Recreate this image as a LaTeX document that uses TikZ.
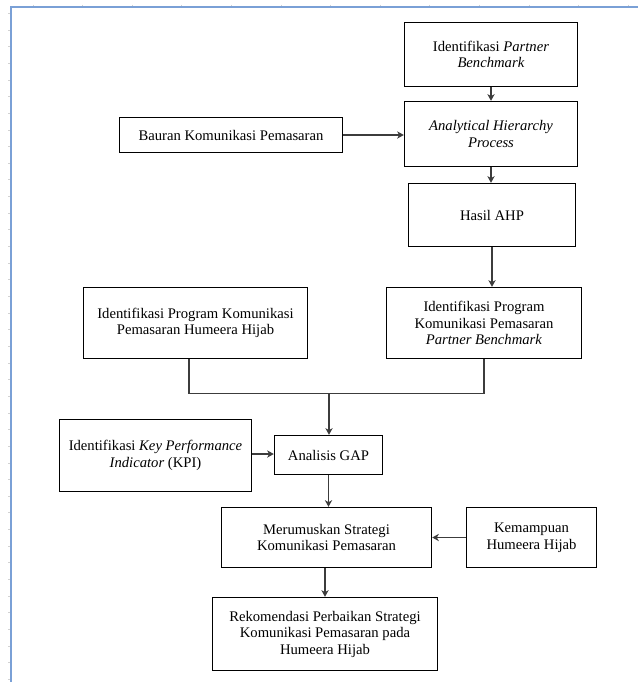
\documentclass[tikz,border=0pt]{standalone}
\usepackage{fontspec}
\setmainfont{Liberation Serif}
\usetikzlibrary{arrows.meta}
\definecolor{framblue}{RGB}{122,160,214}
\definecolor{linegray}{RGB}{60,60,60}
\begin{document}
\begin{tikzpicture}[x=0.75pt,y=-0.75pt,
  box/.style={draw=black,line width=1.1pt,align=center,inner sep=2pt,
    font=\fontsize{11}{12.4}\selectfont},
  sz/.style 2 args={minimum width=#1*0.75pt,minimum height=#2*0.75pt},
  conn/.style={draw=linegray,line width=0.9pt},
  arr/.style={conn,-{Stealth[length=5pt,width=5.5pt,inset=1.6pt]}}]
\useasboundingbox (0,0) rectangle (638,682);
\fill[white] (0,0) rectangle (638,682);
% frame
\draw[framblue,line width=1.5pt] (10.7,682) -- (10.7,6.8) -- (638,6.8);
\foreach \k in {0,...,40} \draw[gray!35,line width=0.5pt] (8.2,13.3+16.65*\k) -- (10,13.3+16.65*\k);
\foreach \k in {0,...,12} \draw[gray!35,line width=0.5pt] (33+49.6*\k,4.5) -- (33+49.6*\k,6);
% nodes
\node[box,sz={173}{64}] (pb) at (491,54.5) {Identifikasi \textit{Partner}\\\textit{Benchmark}};
\node[box,sz={173}{65}] (ahp) at (491,134) {\textit{Analytical Hierarchy}\\\textit{Process}};
\node[box,sz={223}{35}] (bauran) at (231,135) {Bauran Komunikasi Pemasaran};
\node[box,sz={167}{63}] (hasil) at (492,215) {Hasil AHP};
\node[box,sz={195}{71}] (ipkpb) at (484,323) {Identifikasi Program\\Komunikasi Pemasaran\\\textit{Partner Benchmark}};
\node[box,sz={224}{71}] (ipkh) at (195.5,323) {Identifikasi Program Komunikasi\\Pemasaran Humeera Hijab};
\node[box,sz={108}{39}] (gap) at (328.5,455) {Analisis GAP};
\node[box,sz={192}{72}] (kpi) at (155.5,455.5) {Identifikasi \textit{Key Performance}\\\textit{Indicator} (KPI)};
\node[box,sz={210}{60}] (mer) at (326.5,537.5) {Merumuskan Strategi\\Komunikasi Pemasaran};
\node[box,sz={130}{60}] (kem) at (531.5,537.5) {Kemampuan\\Humeera Hijab};
\node[box,sz={225}{73}] (rek) at (325,634) {Rekomendasi Perbaikan Strategi\\Komunikasi Pemasaran pada\\Humeera Hijab};
\coordinate (j) at (329,393.5);
\coordinate (jl) at (189,393.5);
% connectors
\draw[arr] (pb.south) -- (ahp.north);
\draw[arr] (bauran.east) -- (bauran.east -| ahp.west);
\draw[arr] (ahp.south) -- (ahp.south |- hasil.north);
\draw[arr] (hasil.south) -- (hasil.south |- ipkpb.north);
\draw[conn] (jl |- ipkh.south) -- (jl) -- (j) -- (ipkpb.south |- j) -- (ipkpb.south);
\draw[arr] (j) -- (j |- gap.north);
\draw[arr] (kpi.east |- 0,454) -- (gap.west |- 0,454);
\draw[arr] (gap.south) -- (gap.south |- mer.north);
\draw[arr] (kem.west) -- (mer.east);
\draw[arr] (rek.north |- mer.south) -- (rek.north);
\end{tikzpicture}
\end{document}
